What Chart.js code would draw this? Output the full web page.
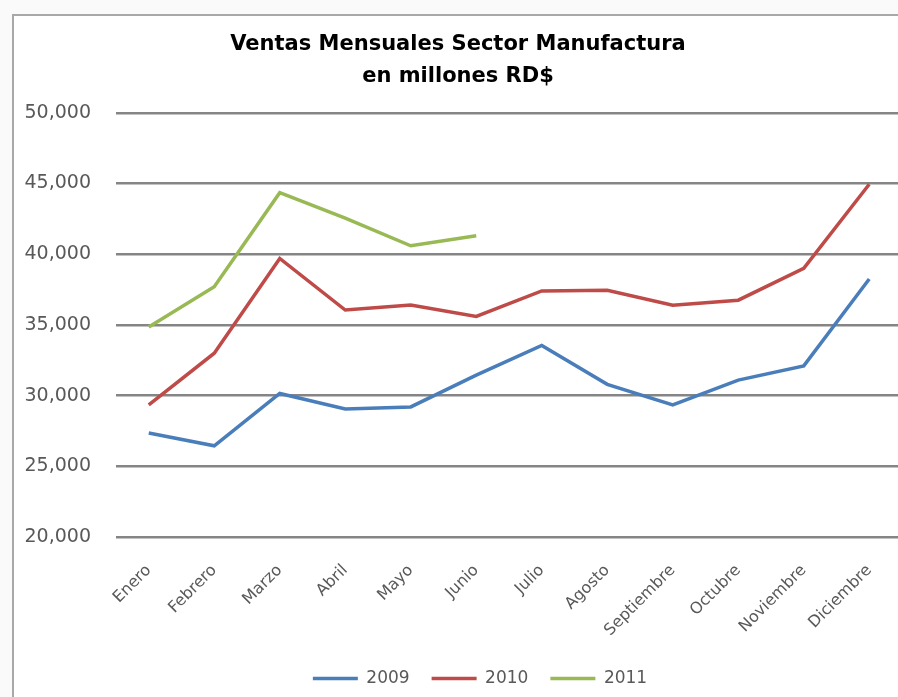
<!DOCTYPE html>
<html lang="es">
<head>
  <meta charset="UTF-8">
  <title>Ventas Mensuales Sector Manufactura</title>
  <script src="https://cdn.jsdelivr.net/npm/chart.js"></script>
  <style>
    html, body { margin: 0; padding: 0; background: #fafafa; overflow: hidden; }
    .frame {
      position: absolute; left: 12px; top: 14px;
      width: 900px; height: 690px;
      border: 2px solid #a8a8a8; background: #fff;
    }
    canvas { display: block; }
  </style>
</head>
<body>

<div class="frame">
  <canvas id="chart" width="900" height="681"></canvas>
</div>

<script>
// Ventas mensuales, millones RD$
const meses = ['Enero', 'Febrero', 'Marzo', 'Abril', 'Mayo', 'Junio',
               'Julio', 'Agosto', 'Septiembre', 'Octubre', 'Noviembre', 'Diciembre'];
const ventas2009 = [27350, 26450, 30150, 29050, 29200, 31450, 33550, 30800, 29350, 31100, 32100, 38250];
const ventas2010 = [29350, 33000, 39700, 36050, 36400, 35600, 37400, 37450, 36400, 36750, 39000, 44950];
const ventas2011 = [34850, 37700, 44350, 42550, 40600, 41300];

const FONT = 'DejaVu Sans';
const gris = '#595959';

// nudge the legend a bit to the right, like the original sheet
const legendShift = {
  id: 'legendShift',
  afterLayout(chart) {
    chart.legend.left += 22;
    chart.legend.right += 22;
  }
};

const serie = (label, data, color) => ({
  label, data,
  borderColor: color, backgroundColor: color,
  borderWidth: 3.5, pointRadius: 0, tension: 0
});

new Chart(document.getElementById('chart'), {
  type: 'line',
  data: {
    labels: meses,
    datasets: [
      serie('2009', ventas2009, '#4a7ebb'),
      serie('2010', ventas2010, '#be4b48'),
      serie('2011', ventas2011, '#98b954')
    ]
  },
  plugins: [legendShift],
  options: {
    responsive: false,
    animation: false,
    layout: { padding: { left: 0, right: 12, top: 0, bottom: 0 } },
    plugins: {
      title: {
        display: true,
        text: ['Ventas Mensuales Sector Manufactura', 'en millones RD$'],
        color: '#000',
        font: { family: FONT, size: 21, weight: 'bold', lineHeight: 1.52 },
        padding: { top: 13, bottom: 20 }
      },
      legend: {
        position: 'bottom',
        labels: {
          color: gris,
          font: { family: FONT, size: 17 },
          usePointStyle: true,
          pointStyle: 'line',
          pointStyleWidth: 45,
          padding: 22
        }
      },
      tooltip: { enabled: false }
    },
    scales: {
      x: {
        offset: true,
        grid: { display: false },
        border: { display: false },
        ticks: {
          color: gris,
          font: { family: FONT, size: 16 },
          minRotation: 45, maxRotation: 45,
          padding: 16
        },
        afterFit: (s) => { s.height = 111; }
      },
      y: {
        min: 20000, max: 50000,
        grid: { color: '#858585', lineWidth: 2.5, drawTicks: false },
        border: { display: false },
        ticks: {
          stepSize: 5000,
          color: gris,
          font: { family: FONT, size: 19 },
          padding: 25,
          callback: (v) => v.toLocaleString('en-US')
        },
        afterFit: (s) => { s.width = 102; }
      }
    }
  }
});
</script>

</body>
</html>
